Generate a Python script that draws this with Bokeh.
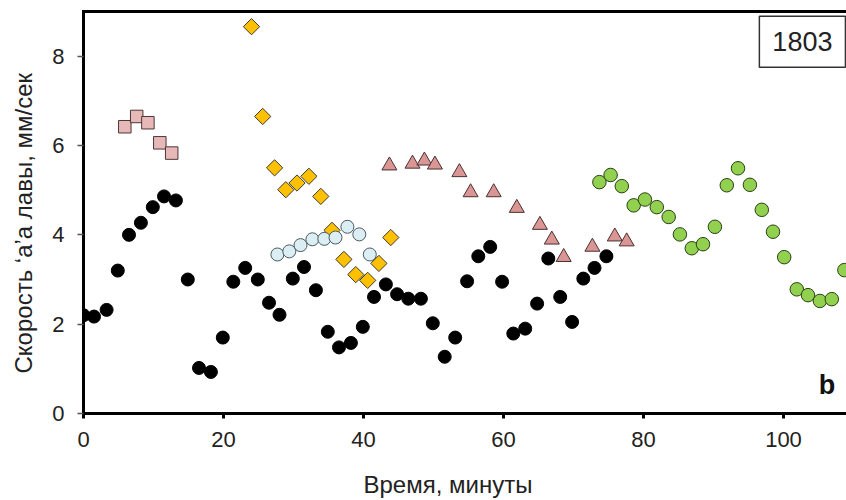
import numpy as np
from bokeh.plotting import figure
from bokeh.models import Range1d, FixedTicker, LinearAxis, Label, Title
from bokeh.embed import file_html
from bokeh.resources import INLINE

# ---- data ----
black_x = [0, 1.5, 3.3, 4.9, 6.5, 8.2, 9.9, 11.5, 13.2, 14.9, 16.5, 18.2, 19.9, 21.4, 23.1,
           24.9, 26.5, 28.0, 29.9, 31.5, 33.2, 34.9, 36.5, 38.2, 39.9, 41.5, 43.2, 44.8, 46.4,
           48.2, 49.9, 51.6, 53.1, 54.8, 56.4, 58.1, 59.8, 61.4, 63.1, 64.8, 66.4, 68.1, 69.8,
           71.4, 73.0, 74.7]
black_y = [2.2, 2.17, 2.32, 3.2, 4.0, 4.27, 4.62, 4.86, 4.77, 3.0, 1.02, 0.93, 1.7, 2.95, 3.26,
           3.0, 2.48, 2.21, 3.02, 3.28, 2.76, 1.83, 1.48, 1.58, 1.94, 2.61, 2.89, 2.67, 2.57,
           2.57, 2.02, 1.27, 1.70, 2.96, 3.52, 3.73, 2.95, 1.79, 1.90, 2.46, 3.47, 2.61, 2.05,
           3.02, 3.26, 3.52]

square_x = [5.9, 7.6, 9.2, 10.9, 12.6]
square_y = [6.42, 6.65, 6.51, 6.06, 5.83]

diamond_x = [24.0, 25.6, 27.3, 28.9, 30.5, 32.2, 33.9, 35.5, 37.2, 38.9, 40.6, 42.2, 43.9]
diamond_y = [8.66, 6.65, 5.5, 5.01, 5.16, 5.31, 4.86, 4.10, 3.45, 3.11, 2.98, 3.36, 3.94]

blue_x = [27.7, 29.4, 31.0, 32.7, 34.4, 36.0, 37.7, 39.4, 40.9]
blue_y = [3.56, 3.63, 3.77, 3.90, 3.91, 3.94, 4.18, 4.01, 3.56]

tri_x = [43.7, 47.0, 48.7, 50.2, 53.7, 55.3, 58.6, 61.9, 65.2, 66.9, 68.6, 72.7, 75.9, 77.6]
tri_y = [5.55, 5.59, 5.66, 5.57, 5.40, 4.95, 4.95, 4.60, 4.22, 3.89, 3.50, 3.73, 3.96, 3.85]

green_x = [73.7, 75.3, 76.9, 78.6, 80.2, 81.9, 83.6, 85.2, 86.9, 88.5, 90.2, 91.9, 93.5, 95.2,
           96.9, 98.5, 100.1, 101.9, 103.5, 105.2, 106.9, 108.7]
green_y = [5.18, 5.34, 5.09, 4.66, 4.79, 4.62, 4.40, 4.01, 3.70, 3.79, 4.18, 5.11, 5.49, 5.12,
           4.56, 4.07, 3.50, 2.78, 2.65, 2.52, 2.56, 3.21]

x_ticks = [0, 20, 40, 60, 80, 100]
y_ticks = [0, 2, 4, 6, 8]

x_title = "Время, минуты"
y_title = "Скорость ‘а’а лавы, мм/сек"
year_text = "1803"
panel_text = "b"

FONT = "Liberation Sans"

p = figure(width=846, height=500, output_backend="svg", toolbar_location=None,
           x_range=Range1d(0, 109), y_range=Range1d(0, 9),
           min_border_left=83, min_border_right=0, min_border_top=11, min_border_bottom=87)
p.outline_line_color = None
p.grid.visible = False
p.background_fill_color = "white"
p.border_fill_color = "white"

for ax in (p.xaxis[0], p.yaxis[0]):
    ax.axis_line_width = 3
    ax.axis_line_color = "black"
    ax.axis_line_cap = "square"
    ax.minor_tick_line_color = None
    ax.major_tick_in = 0
    ax.major_label_text_font = FONT
    ax.major_label_text_font_size = "22px"
    ax.major_label_text_color = "#222222"

p.xaxis.ticker = FixedTicker(ticks=x_ticks)
p.yaxis.ticker = FixedTicker(ticks=y_ticks)
p.xaxis.major_tick_out = 5
p.xaxis.major_tick_line_width = 3
p.xaxis.major_tick_line_color = "black"
p.xaxis.major_label_standoff = 13
p.yaxis.major_tick_out = 6
p.yaxis.major_tick_line_width = 1.5
p.yaxis.major_tick_line_color = "#555555"
p.yaxis.major_label_standoff = 13

top_axis = LinearAxis(ticker=FixedTicker(ticks=[]), axis_line_width=3, axis_line_color="black",
                      axis_line_cap="square", major_tick_out=0, major_tick_in=0,
                      minor_tick_out=0, minor_tick_in=0, major_label_standoff=0)
p.add_layout(top_axis, "above")

# axis titles as side-panel titles (so they can be placed off-centre like the reference)
p.add_layout(Title(text=x_title, align="left", offset=280, standoff=0,
                   padding=dict(left=0, right=0, top=19, bottom=0),
                   text_font=FONT, text_font_size="24px", text_font_style="normal",
                   text_color="#222222"), "below")
p.add_layout(Title(text=y_title, align="left", offset=40, standoff=0,
                   padding=dict(left=0, right=0, top=0, bottom=13),
                   text_font=FONT, text_font_size="24px", text_font_style="normal",
                   text_color="#222222"), "left")

# ---- series ----
p.scatter(black_x, black_y, marker="circle", size=13, fill_color="black", line_color="black")
p.scatter(square_x, square_y, marker="square", size=12.5, fill_color="#e6b9b8",
          line_color="#4d3535", line_width=1)
p.scatter(diamond_x, diamond_y, marker="square", angle=np.pi / 4, size=11.5,
          fill_color="#ffc000", line_color="#3a3a3a", line_width=1)
p.scatter(blue_x, blue_y, marker="circle", size=13, fill_color="#dbeef4",
          line_color="#4a5a60", line_width=1)
p.scatter(tri_x, tri_y, marker="triangle", size=15, fill_color="#d99694",
          line_color="#4a3030", line_width=1)
p.scatter(green_x, green_y, marker="circle", size=13.5, fill_color="#92d050",
          line_color="#2a3f14", line_width=1)

# ---- texts inside the frame ----
p.add_layout(Label(x=102.7, y=8.32, text=year_text, text_align="center", text_baseline="middle",
                   text_font=FONT, text_font_size="27px", text_color="#222222",
                   border_line_color="#333333", border_line_width=1.5,
                   background_fill_color="white", padding=(13, 16)))
p.add_layout(Label(x=106.2, y=0.64, text=panel_text, text_align="center", text_baseline="middle",
                   text_font=FONT, text_font_size="27px", text_font_style="bold",
                   text_color="#111111"))

open("out.html", "w").write(file_html(p, INLINE))
